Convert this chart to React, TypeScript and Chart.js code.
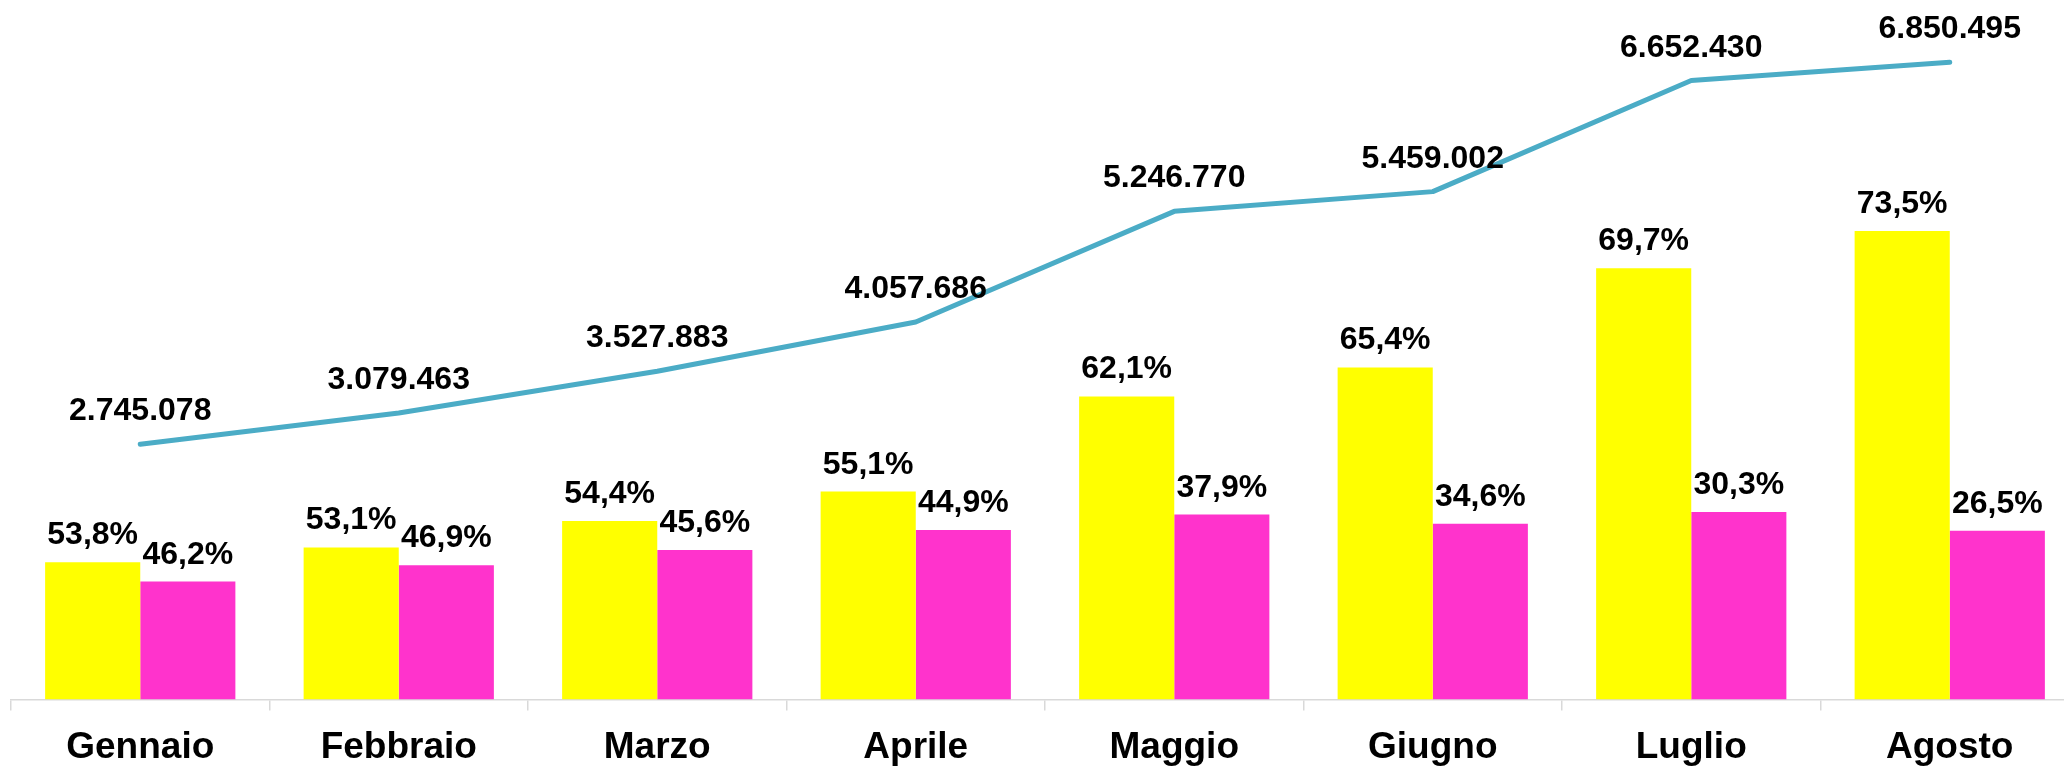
import React, { useEffect, useRef } from "react";
import { Chart, registerables } from "chart.js";

Chart.register(...registerables);

const months = ["Gennaio", "Febbraio", "Marzo", "Aprile", "Maggio", "Giugno", "Luglio", "Agosto"];
const totals = [2745078, 3079463, 3527883, 4057686, 5246770, 5459002, 6652430, 6850495];
const yellowPct = [53.8, 53.1, 54.4, 55.1, 62.1, 65.4, 69.7, 73.5];
const magentaPct = [46.2, 46.9, 45.6, 44.9, 37.9, 34.6, 30.3, 26.5];
const yellowCounts = [1476852, 1635195, 1919168, 2235785, 3258244, 3570187, 4636744, 5035114];
const magentaCounts = [1268226, 1444268, 1608715, 1821901, 1988526, 1888815, 2015686, 1815381];

const fmtPct = (v: number) => `${v.toFixed(1).replace(".", ",")}%`;
const fmtInt = (v: number) => String(v).replace(/\B(?=(\d{3})+(?!\d))/g, ".");

const lineLabels = totals.map(fmtInt);
const yellowLabels = yellowPct.map(fmtPct);
const magentaLabels = magentaPct.map(fmtPct);

const FONT = "'Liberation Sans', Arial, Helvetica, sans-serif";

const valueLabelPlugin = {
  id: "valueLabels",
  afterDatasetsDraw(chart: any) {
    const ctx = chart.ctx;
    ctx.save();
    ctx.font = `bold 32px ${FONT}`;
    ctx.fillStyle = "#000000";
    ctx.textAlign = "center";
    ctx.textBaseline = "alphabetic";
    chart.data.datasets.forEach((ds: any, di: number) => {
      const meta = chart.getDatasetMeta(di);
      const labels: string[] = ds.valueLabels || [];
      const off = ds.type === "line" ? 24 : 18;
      meta.data.forEach((el: any, i: number) => {
        ctx.fillText(labels[i], el.x, el.y - off);
      });
    });
    ctx.restore();
  },
};

export default function App() {
  const canvasRef = useRef<HTMLCanvasElement | null>(null);

  useEffect(() => {
    if (!canvasRef.current) return;
    const chart = new Chart(canvasRef.current, {
      type: "bar",
      data: {
        labels: months,
        datasets: [
          {
            type: "line",
            label: "Totale",
            data: totals,
            valueLabels: lineLabels,
            borderColor: "#4BACC6",
            backgroundColor: "#4BACC6",
            borderWidth: 5,
            borderCapStyle: "round",
            borderJoinStyle: "round",
            pointRadius: 0,
            tension: 0,
            order: 0,
          } as any,
          {
            type: "bar",
            label: "Serie 1",
            data: yellowCounts,
            valueLabels: yellowLabels,
            backgroundColor: "#FFFF00",
            borderWidth: 0,
            categoryPercentage: 0.736,
            barPercentage: 1,
            order: 1,
          } as any,
          {
            type: "bar",
            label: "Serie 2",
            data: magentaCounts,
            valueLabels: magentaLabels,
            backgroundColor: "#FF33CC",
            borderWidth: 0,
            categoryPercentage: 0.736,
            barPercentage: 1,
            order: 1,
          } as any,
        ],
      },
      options: {
        animation: false,
        responsive: true,
        maintainAspectRatio: false,
        layout: { padding: { left: 11, right: 21, top: 11, bottom: 0 } },
        plugins: {
          legend: { display: false },
          title: { display: false },
          tooltip: { enabled: false },
        },
        scales: {
          x: {
            offset: true,
            grid: {
              display: true,
              offset: true,
              drawOnChartArea: false,
              drawTicks: true,
              tickLength: 11,
              color: "#D9D9D9",
              lineWidth: 1.5,
            },
            border: { display: true, color: "#D9D9D9", width: 1.5 },
            ticks: {
              color: "#000000",
              padding: 15,
              font: { family: FONT, size: 37, weight: "bold" },
            },
          },
          y: {
            display: false,
            min: 0,
            max: 7400000,
          },
        },
      },
      plugins: [valueLabelPlugin],
    });
    return () => chart.destroy();
  }, []);

  return (
    <div style={{ position: "fixed", left: 0, top: 0, width: 2064, height: 768, overflow: "hidden", background: "#ffffff" }}>
      <div style={{ position: "absolute", left: 0, top: 0, width: 2100, height: 785 }}>
        <canvas ref={canvasRef} />
      </div>
    </div>
  );
}
